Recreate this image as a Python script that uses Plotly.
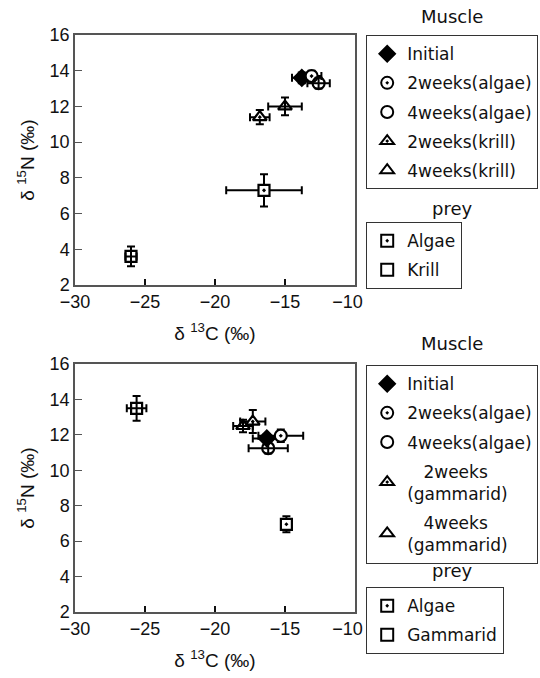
import plotly.graph_objects as go

# ---------------- data ----------------
muscle_symbols = ["diamond", "circle-dot", "circle-open", "triangle-up-dot", "triangle-up-open"]
prey_symbols = ["square-dot", "square-open"]

top_muscle_labels = ["Initial", "2weeks(algae)", "4weeks(algae)", "2weeks(krill)", "4weeks(krill)"]
top_muscle_x = [-13.8, -13.1, -12.6, -16.8, -15.0]
top_muscle_y = [13.6, 13.7, 13.3, 11.4, 12.0]
top_muscle_xerr = [0.7, 0.7, 0.8, 0.7, 1.2]
top_muscle_yerr = [0.3, 0.3, 0.3, 0.4, 0.5]

top_prey_labels = ["Algae", "Krill"]
top_prey_x = [-16.5, -26.0]
top_prey_y = [7.3, 3.6]
top_prey_xerr = [2.7, 0.4]
top_prey_yerr = [0.9, 0.55]

bot_muscle_labels = ["Initial", "2weeks(algae)", "4weeks(algae)",
                     "\u00a0\u00a0\u00a02weeks<br>(gammarid)", "\u00a0\u00a0\u00a04weeks<br>(gammarid)"]
bot_muscle_x = [-16.3, -15.3, -16.2, -17.3, -18.0]
bot_muscle_y = [11.8, 11.95, 11.25, 12.75, 12.5]
bot_muscle_xerr = [1.0, 1.6, 1.4, 0.9, 0.7]
bot_muscle_yerr = [0.25, 0.35, 0.3, 0.65, 0.35]

bot_prey_labels = ["Algae", "Gammarid"]
bot_prey_x = [-14.9, -25.6]
bot_prey_y = [6.95, 13.5]
bot_prey_xerr = [0.3, 0.7]
bot_prey_yerr = [0.45, 0.7]

x_ticks = [-30, -25, -20, -15, -10]
x_ticktext = ["\u221230", "\u221225", "\u221220", "\u221215", "\u221210\u00a0\u00a0\u00a0"]
y_ticks = [2, 4, 6, 8, 10, 12, 14, 16]

# ---------------- figure ----------------
W, H = 540, 678
fig = go.Figure()

TICKFONT = dict(family="Liberation Sans, Arial", size=18, color="#111")
LEGFONT = dict(family="DejaVu Sans", size=17, color="#111")


def add_series(labels, xs, ys, xerr, yerr, symbols, xaxis, yaxis, legend, prefix):
    for i, lab in enumerate(labels):
        sym = symbols[i]
        size = 12 if "square" not in sym else 11
        fill = "white" if sym.endswith("-dot") else "black"
        fig.add_trace(go.Scatter(
            x=[xs[i]], y=[ys[i]], mode="markers", name=lab,
            xaxis=xaxis, yaxis=yaxis, legend=legend,
            legendgroup=f"{prefix}{i}",
            marker=dict(symbol=sym, size=size, color=fill,
                        line=dict(color="black", width=2.2)),
            error_x=dict(type="data", array=[xerr[i]], color="black", thickness=2, width=4),
            error_y=dict(type="data", array=[yerr[i]], color="black", thickness=2, width=4),
        ))


add_series(top_muscle_labels, top_muscle_x, top_muscle_y, top_muscle_xerr, top_muscle_yerr,
           muscle_symbols, "x", "y", "legend", "tm")
add_series(top_prey_labels, top_prey_x, top_prey_y, top_prey_xerr, top_prey_yerr,
           prey_symbols, "x", "y", "legend2", "tp")
add_series(bot_muscle_labels, bot_muscle_x, bot_muscle_y, bot_muscle_xerr, bot_muscle_yerr,
           muscle_symbols, "x2", "y2", "legend3", "bm")
add_series(bot_prey_labels, bot_prey_x, bot_prey_y, bot_prey_xerr, bot_prey_yerr,
           prey_symbols, "x2", "y2", "legend4", "bp")


def px_x(p):
    return p / W


def px_y(p):
    return 1 - p / H


xaxis_common = dict(range=[-30, -10], tickvals=x_ticks, ticktext=x_ticktext, ticks="inside",
                    ticklen=6, tickwidth=2,
                    tickcolor="#111", showline=True, linecolor="#555", linewidth=1.5, mirror=True,
                    showgrid=False, zeroline=False, tickfont=TICKFONT, fixedrange=True)
yaxis_common = dict(range=[2, 16], tickvals=y_ticks, ticks="inside", ticklen=7, tickwidth=1,
                    tickcolor="#555", showline=True, linecolor="#555", linewidth=1.5, mirror=True,
                    showgrid=False, zeroline=False, tickfont=TICKFONT, fixedrange=True)

xtitle = dict(text="δ <sup>13</sup>C (‰)", font=dict(family="Liberation Sans, Arial", size=19, color="#111"), standoff=15)
ytitle = dict(text="δ <sup>15</sup>N (‰)", font=dict(family="Liberation Sans, Arial", size=19, color="#111"), standoff=10)

leg_common = dict(bgcolor="white", bordercolor="#333", borderwidth=1.2, font=LEGFONT,
                  xanchor="left", yanchor="top", tracegroupgap=4, itemsizing="constant")

fig.update_layout(
    width=W, height=H, margin=dict(l=0, r=0, t=0, b=0, autoexpand=False),
    paper_bgcolor="white", plot_bgcolor="white",
    showlegend=True,
    xaxis=dict(domain=[px_x(75), px_x(355)], anchor="y", title=xtitle, **xaxis_common),
    yaxis=dict(domain=[px_y(285), px_y(35)], anchor="x", title=ytitle, **yaxis_common),
    xaxis2=dict(domain=[px_x(75), px_x(355)], anchor="y2", title=xtitle, **xaxis_common),
    yaxis2=dict(domain=[px_y(612), px_y(364)], anchor="x2", title=ytitle, **yaxis_common),
    legend=dict(x=px_x(366), y=px_y(35), **leg_common),
    legend2=dict(x=px_x(366), y=px_y(222), **leg_common),
    legend3=dict(x=px_x(366), y=px_y(365), **leg_common),
    legend4=dict(x=px_x(366), y=px_y(587), **leg_common),
    font=dict(family="Liberation Sans, Arial", color="#111"),
)

titles = [("Muscle", 17), ("prey", 208), ("Muscle", 343), ("prey", 570)]
for txt, py in titles:
    fig.add_annotation(text=txt, x=px_x(452), y=px_y(py), xref="paper", yref="paper",
                       showarrow=False, xanchor="center", yanchor="middle",
                       font=dict(family="DejaVu Sans", size=18, color="#111"))

fig.write_html("out.html", config={"displayModeBar": False},
               post_script="document.body.style.margin='0px';document.body.style.overflow='hidden';")
